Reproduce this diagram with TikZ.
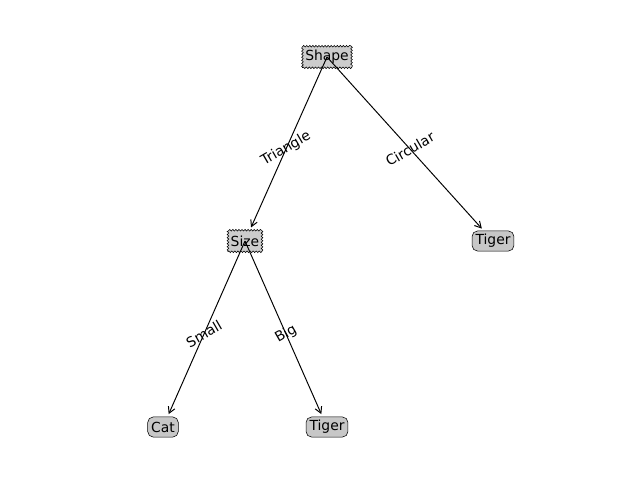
\documentclass[tikz,border=0pt]{standalone}
\usepackage{fontspec}
\setmainfont{DejaVu Sans}
\usetikzlibrary{arrows.meta,decorations.pathmorphing,calc}
\tikzset{
  px/.style={x=0.72pt,y=-0.72pt},
  decision/.style={draw=black, fill=black!20, font=\fontsize{10pt}{12pt}\selectfont,
    inner xsep=2pt, inner ysep=2.5pt, minimum height=15.5pt,
    decorate, decoration={zigzag, segment length=2.2pt, amplitude=0.6pt}},
  leaf/.style={draw=black, fill=black!22, font=\fontsize{10pt}{12pt}\selectfont,
    rounded corners=4pt, inner xsep=2.5pt, inner ysep=2pt, minimum height=14.5pt},
  edge/.style={draw=black, line width=0.7pt, -{Straight Barb[length=4.5pt,width=5pt]}, shorten >=2pt},
  elabel/.style={font=\fontsize{10pt}{12pt}\selectfont, rotate=30, inner sep=0pt}
}
\begin{document}
\begin{tikzpicture}[px]
\useasboundingbox (0,0) rectangle (640,480);
\node[decision] (shape) at (327,57) {Shape};
\node[decision] (size) at (245,241) {Size};
\node[leaf] (tigerR) at (493,241) {Tiger};
\node[leaf] (cat) at (163,427) {Cat};
\node[leaf] (tigerB) at (327,427) {Tiger};
\draw[edge] (shape.center) -- (size);
\draw[edge] (shape.center) -- (tigerR);
\draw[edge] (size.center) -- (cat);
\draw[edge] (size.center) -- (tigerB);
\node[elabel] (l1) at ($(shape.center)!0.5!(size.center)$) {Triangle};
\node[elabel] (l2) at ($(shape.center)!0.5!(tigerR.center)$) {Circular};
\node[elabel] (l3) at ($(size.center)!0.5!(cat.center)$) {Small};
\node[elabel] (l4) at ($(size.center)!0.5!(tigerB.center)$) {Big};
\end{tikzpicture}
\end{document}
